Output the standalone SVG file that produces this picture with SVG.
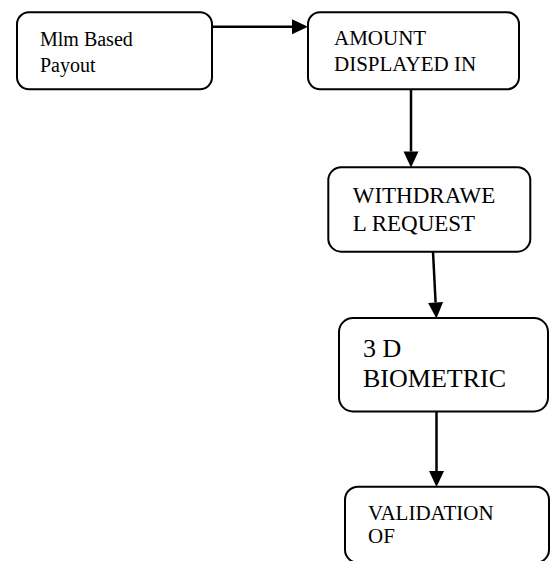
<svg xmlns="http://www.w3.org/2000/svg" width="550" height="561" viewBox="0 0 550 561">
  <style>
    .box { fill: #ffffff; stroke: #000000; stroke-width: 2; }
    .lbl { fill: #000000; }
    .edge { stroke: #000000; stroke-width: 2.5; fill: none; marker-end: url(#head); }
  </style>
  <defs>
    <!-- filled triangular arrowhead; its base sits at the line end -->
    <marker id="head" markerUnits="userSpaceOnUse" markerWidth="16" markerHeight="15" refX="0" refY="7.5" orient="auto" overflow="visible">
      <path d="M0,0 L16,7.5 L0,15 Z" fill="#000000"/>
    </marker>
  </defs>
  <rect width="550" height="561" fill="#ffffff"/>

  <g id="connectors">
    <line class="edge" x1="212" y1="26.7" x2="292" y2="26.7"/>
    <line class="edge" x1="411" y1="89.3" x2="411" y2="151.5"/>
    <line class="edge" x1="433" y1="251.7" x2="435.6" y2="302.5"/>
    <line class="edge" x1="436.5" y1="411.5" x2="436.5" y2="471"/>
  </g>

  <g font-family="'Liberation Serif', 'DejaVu Serif', serif">
    <g id="node-payout">
      <rect class="box" x="17" y="12.3" width="195" height="77" rx="12" ry="12"/>
      <text class="lbl" font-size="20" x="40" y="45.7">Mlm Based</text>
      <text class="lbl" font-size="20" x="40" y="71.7">Payout</text>
    </g>

    <g id="node-amount">
      <rect class="box" x="308" y="12.3" width="211" height="77" rx="12" ry="12"/>
      <text class="lbl" font-size="21" x="334" y="45">AMOUNT</text>
      <text class="lbl" font-size="21" x="334" y="70.7">DISPLAYED IN</text>
    </g>

    <g id="node-withdrawel">
      <rect class="box" x="328.3" y="167.3" width="202" height="84.4" rx="13" ry="13"/>
      <text class="lbl" font-size="23" x="352.7" y="203">WITHDRAWE</text>
      <text class="lbl" font-size="23" x="352.7" y="230.7">L REQUEST</text>
    </g>

    <g id="node-biometric">
      <rect class="box" x="339" y="318" width="209" height="93.5" rx="14" ry="14"/>
      <text class="lbl" font-size="26" x="363" y="357">3 D</text>
      <text class="lbl" font-size="26" x="363" y="387">BIOMETRIC</text>
    </g>

    <g id="node-validation">
      <rect class="box" x="345" y="486.7" width="204" height="76" rx="13" ry="13"/>
      <text class="lbl" font-size="21" x="368" y="519.5">VALIDATION</text>
      <text class="lbl" font-size="21" x="368" y="543">OF</text>
    </g>
  </g>
</svg>
